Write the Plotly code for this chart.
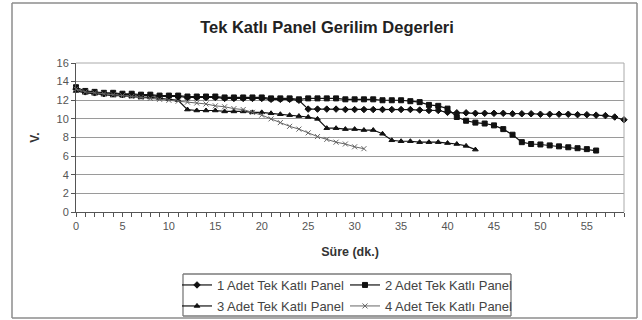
import plotly.graph_objects as go

# Measurement minutes and panel voltages (V)
minutes_1 = list(range(0, 60))
minutes_2 = list(range(0, 57))
minutes_3 = list(range(0, 44))
minutes_4 = list(range(0, 32))

volt_1 = [13.2, 12.9, 12.8, 12.7, 12.7, 12.6, 12.6, 12.5, 12.5, 12.4,
          12.4, 12.4, 12.3, 12.3, 12.3, 12.3, 12.2, 12.2, 12.2, 12.2,
          12.2, 12.1, 12.1, 12.1, 12.0, 11.05, 11.05, 11.05, 11.05, 11.0,
          11.0, 11.0, 11.0, 11.0, 11.0, 11.0, 11.0, 10.95, 10.9, 10.9,
          10.7, 10.65, 10.65, 10.6, 10.6, 10.6, 10.6, 10.55, 10.55, 10.55,
          10.5, 10.5, 10.5, 10.5, 10.45, 10.45, 10.4, 10.35, 10.2, 9.9]

volt_2 = [13.4, 13.0, 12.9, 12.8, 12.8, 12.7, 12.7, 12.6, 12.6, 12.5,
          12.5, 12.5, 12.4, 12.4, 12.4, 12.4, 12.3, 12.3, 12.3, 12.3,
          12.3, 12.2, 12.2, 12.2, 12.1, 12.2, 12.2, 12.2, 12.2, 12.1,
          12.1, 12.1, 12.1, 12.0, 12.0, 12.0, 11.9, 11.8, 11.5, 11.4,
          11.1, 10.2, 9.8, 9.6, 9.5, 9.3, 8.9, 8.3, 7.5, 7.3,
          7.25, 7.15, 7.05, 6.95, 6.85, 6.75, 6.6]

volt_3 = [13.0, 12.8, 12.7, 12.6, 12.5, 12.5, 12.4, 12.3, 12.3, 12.2,
          12.1, 12.0, 11.0, 10.9, 10.9, 10.9, 10.8, 10.8, 10.8, 10.7,
          10.7, 10.6, 10.5, 10.4, 10.3, 10.2, 10.0, 9.0, 9.0, 8.9,
          8.9, 8.8, 8.8, 8.4, 7.7, 7.6, 7.6, 7.5, 7.5, 7.5,
          7.4, 7.3, 7.1, 6.7]

volt_4 = [13.2, 12.9, 12.8, 12.7, 12.6, 12.5, 12.4, 12.3, 12.2, 12.1,
          12.0, 11.9, 11.8, 11.7, 11.6, 11.4, 11.3, 11.1, 11.0, 10.7,
          10.4, 10.0, 9.6, 9.2, 8.9, 8.5, 8.1, 7.8, 7.5, 7.3,
          7.0, 6.8]

series_names = ["1 Adet Tek Katlı Panel", "2 Adet Tek Katlı Panel",
                "3 Adet Tek Katlı Panel", "4 Adet Tek Katlı Panel"]

x_ticks = [0, 5, 10, 15, 20, 25, 30, 35, 40, 45, 50, 55]
y_ticks = [0, 2, 4, 6, 8, 10, 12, 14, 16]

W, H = 642, 320
ML, MR, MT, MB = 76, 18, 63, 108
PW, PH = W - ML - MR, H - MT - MB


def px(xp):
    return (xp - ML) / PW


def py(yp):
    return (H - MB - yp) / PH


FONT = "Liberation Sans, Arial, sans-serif"

styles = [
    dict(symbol="diamond", size=5, color="#111111", width=1.2, legend="legend"),
    dict(symbol="square", size=5, color="#111111", width=1.2, legend="legend"),
    dict(symbol="triangle-up", size=5, color="#111111", width=1.2, legend="legend2"),
    dict(symbol="x-thin", size=5, color="#666666", width=1.0, legend="legend2"),
]

fig = go.Figure()
for xs, ys, name, st in zip([minutes_1, minutes_2, minutes_3, minutes_4],
                            [volt_1, volt_2, volt_3, volt_4],
                            series_names, styles):
    fig.add_trace(go.Scatter(
        x=xs, y=ys, name=name, mode="lines+markers",
        line=dict(color=st["color"], width=st["width"]),
        marker=dict(symbol=st["symbol"], size=st["size"], color=st["color"],
                    line=dict(color=st["color"], width=1)),
        cliponaxis=False, legend=st["legend"],
    ))

legend_common = dict(
    orientation="h", xanchor="left", yanchor="middle",
    font=dict(family=FONT, size=13, color="#444444"),
    bgcolor="rgba(0,0,0,0)", borderwidth=0,
    entrywidth=123, entrywidthmode="pixels", itemwidth=30,
)


def hline(x0, x1, y, color, width):
    return dict(type="line", xref="paper", yref="paper", layer="above",
                x0=px(x0), x1=px(x1), y0=py(y), y1=py(y),
                line=dict(color=color, width=width))


def vline(x, y0, y1, color, width):
    return dict(type="line", xref="paper", yref="paper", layer="above",
                x0=px(x), x1=px(x), y0=py(y0), y1=py(y1),
                line=dict(color=color, width=width))


frame_color = "#8c8c8c"
legend_color = "#7a7a7a"

fig.update_layout(
    width=W, height=H,
    margin=dict(l=ML, r=MR, t=MT, b=MB, autoexpand=False),
    paper_bgcolor="white", plot_bgcolor="white",
    showlegend=True,
    title=dict(text="<b>Tek Katlı Panel Gerilim Degerleri</b>",
               x=327 / W, xanchor="center", y=1 - 27 / H, yanchor="middle",
               font=dict(family=FONT, size=16.5, color="#222222")),
    xaxis=dict(
        range=[0, 59], tickvals=x_ticks, ticks="outside", ticklen=4,
        tickcolor="#555555", showgrid=False, zeroline=False,
        showline=True, linecolor="#555555", linewidth=1,
        minor=dict(dtick=1, tick0=0, ticks="outside", ticklen=4,
                   tickcolor="#555555", showgrid=False),
        tickfont=dict(family=FONT, size=11, color="#555555"),
        title=dict(text="<b>Süre (dk.)</b>", standoff=16,
                   font=dict(family=FONT, size=12.5, color="#333333")),
        automargin=False,
    ),
    yaxis=dict(
        range=[0, 16], tickvals=y_ticks, ticks="outside", ticklen=4,
        tickcolor="#555555", showgrid=True, gridcolor="#9a9a9a", gridwidth=1,
        zeroline=False, showline=True, linecolor="#555555", linewidth=1,
        tickfont=dict(family=FONT, size=11, color="#555555"),
        title=dict(text="<b>V.</b>", standoff=14,
                   font=dict(family=FONT, size=12, color="#333333")),
        automargin=False,
    ),
    legend=dict(x=px(177), y=py(285), **legend_common),
    legend2=dict(x=px(177), y=py(306), **legend_common),
    shapes=[
        # plot area border (top and right)
        hline(ML, W - MR, MT, "#aaaaaa", 1),
        vline(W - MR, H - MB, MT, "#aaaaaa", 1),
        # legend frame
        hline(183, 511, 274, legend_color, 1.3),
        hline(183, 511, 316, legend_color, 1.3),
        vline(183, 274, 316, legend_color, 1.3),
        vline(511, 274, 316, legend_color, 1.3),
        # chart area frame
        hline(12, 637, 3, frame_color, 1.5),
        hline(12, 637, 318, frame_color, 1.5),
        vline(12, 3, 318, frame_color, 1.5),
        vline(637, 3, 318, frame_color, 1.5),
    ],
)

fig.write_html("out.html")
